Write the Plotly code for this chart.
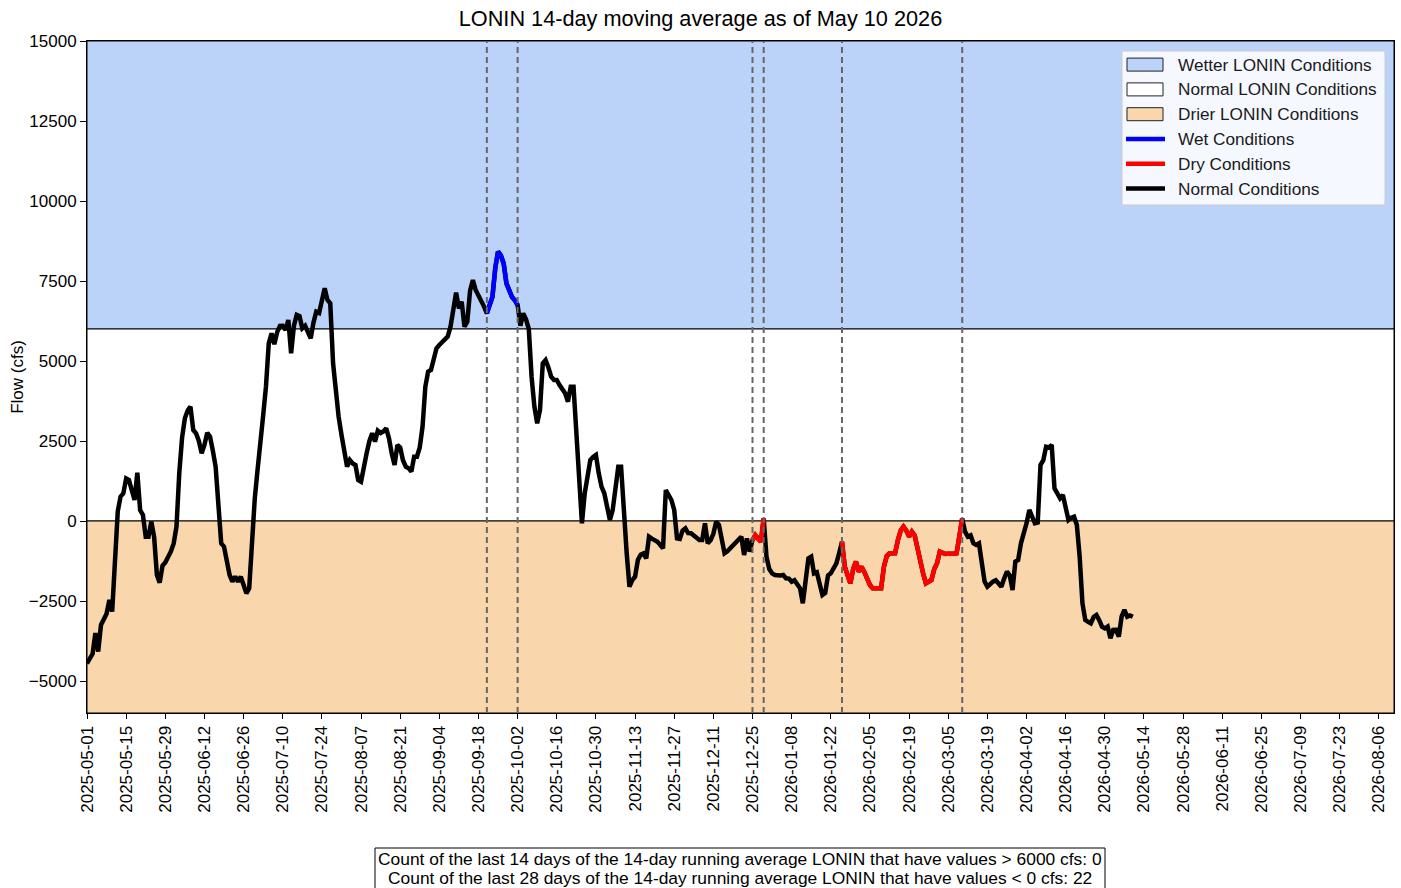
import pandas as pd
import plotly.graph_objects as go

# ---------------- data ----------------
START_DATE = "2025-05-01"
AS_OF_LABEL = "May 10 2026"
X_END = "2026-08-11 10:00"
Y_RANGE = [-6000, 15000]
WET_THRESHOLD = 6000
DRY_THRESHOLD = 0

# days since START_DATE
day_offset = [
    0, 2, 3, 4, 5, 6, 7, 8, 9, 11, 12, 13, 14, 15, 17, 18, 19, 20, 21, 22,
    23, 24, 25, 26, 27, 28, 29, 30, 31, 32, 33, 34, 35, 36, 37, 38, 39, 40,
    41, 42, 43, 44, 45, 46, 47, 48, 49, 50, 51, 52, 53, 54, 55, 56, 57, 58,
    59, 60, 61, 62, 63, 64, 65, 66, 67, 68, 69, 70, 71, 72, 73, 74, 75, 76,
    77, 78, 79, 80, 81, 82, 83, 84, 85, 86, 87, 88, 89, 90, 91, 92, 93, 94,
    95, 96, 97, 98, 99, 100, 101, 102, 103, 104, 105, 106, 107, 108, 109,
    110, 111, 112, 113, 114, 115, 116, 117, 118, 119, 120, 121, 122, 123,
    124, 125, 126, 127, 128, 129, 130, 131, 132, 133, 134, 135, 136, 137,
    138, 139, 140, 141, 142, 143, 144, 145, 146, 147, 148, 149, 150, 151,
    152, 153, 154, 155, 156, 157, 158, 159, 160, 161, 162, 163, 164, 165,
    166, 167, 168, 169, 170, 171, 172, 173, 174, 175, 176, 177, 178, 179,
    180, 181, 182, 183, 184, 185, 186, 187, 188, 189, 190, 191, 192, 193,
    194, 195, 196, 197, 198, 199, 200, 201, 202, 203, 204, 205, 206, 207,
    208, 209, 210, 211, 212, 213, 214, 215, 216, 217, 218, 219, 220, 221,
    222, 223, 224, 225, 226, 227, 228, 229, 230, 231, 232, 233, 234, 235,
    236, 237, 238, 239, 240, 241, 242, 243, 244, 245, 246, 247, 248, 249,
    250, 251, 252, 253, 254, 255, 256, 257, 258, 259, 260, 261, 262, 263,
    264, 265, 266, 267, 268, 269, 270, 271, 272, 273, 274, 275, 276, 277,
    278, 279, 280, 281, 282, 283, 284, 285, 286, 287, 288, 289, 290, 291,
    292, 293, 294, 295, 296, 297, 298, 299, 300, 301, 302, 303, 304, 305,
    306, 307, 308, 309, 310, 311, 312, 313, 314, 315, 316, 317, 318, 319,
    320, 321, 322, 323, 324, 325, 326, 327, 328, 329, 330, 331, 332, 333,
    334, 335, 336, 337, 338, 339, 340, 341, 342, 343, 344, 345, 346, 347,
    348, 349, 350, 351, 352, 353, 354, 355, 356, 357, 358, 359, 360, 361,
    362, 363, 364, 365, 366, 367, 368, 369, 370, 371, 372, 373, 374,
]
flow_cfs = [
    -4450, -4150, -3500, -4080, -3250, -3100, -2900, -2470, -2830, 300, 760,
    865, 1330, 1280, 656, 1510, 344, 187, -490, -490,
    -20, -490, -1687, -1927, -1400, -1300, -1146, -950, -700, -177, 1500,
    2600, 3208, 3450, 3573, 2844, 2740, 2500,
    2115, 2375, 2760, 2635, 2200, 1697, 500, -698, -802, -1300, -1687,
    -1895, -1740, -1895, -1740, -2000, -2260, -2104,
    -385, 700, 1600, 2323, 3300, 4197, 5553, 5865, 5522, 5900, 6094, 6100,
    5969, 6281, 5240, 6100, 6438, 6400,
    6022, 6100, 5900, 5709, 6200, 6540, 6500, 6906, 7271, 6906, 6800, 4928,
    3900, 3250, 2700, 2100, 1697, 1906,
    1800, 1750, 1281, 1229, 1600, 2115, 2500, 2740, 2480, 2823, 2750, 2800,
    2896, 2583, 2100,
    1750, 2375, 2300, 1900, 1697, 1650, 1541, 2010, 2010, 2300, 2948, 4197,
    4666, 4719,
    5000, 5397, 5500, 5600, 5700, 5760, 6072, 6600, 7134, 6647, 6853, 6072,
    6228, 7200,
    7531, 7219, 7063, 6900, 6700, 6490, 6800, 7010, 7900, 8416, 8300, 8050,
    7428, 7200,
    7000, 6900, 6750, 6100, 6490, 6300, 6000, 4500, 3572, 3053, 3469, 4928,
    5031, 4800,
    4510, 4406, 4406, 4250, 4100, 3990, 3728, 4197, 4197, 2844, 1400, -73,
    866, 1400,
    1906, 2000, 2063, 1500, 1072, 866, 500, 31, 344, 1000, 1697, 1697, 135,
    -1000,
    -2053, -1850, -1740, -1219, -1050, -1010, -1167, -490, -550, -594, -646,
    -750, -854, 969,
    800, 656, 344, -542, -560, -300, -229, -380, -385, -450, -520, -594,
    -594, -73,
    -698, -600, -400, -21, -125, -500, -1010, -950, -854, -750, -698, -600,
    -490, -1063,
    -542, -958, -594, -440, -560, -646, 83, -1115, -1500, -1635, -1687,
    -1700, -1700, -1687,
    -1792, -1800, -1895, -1850, -2000, -2104, -2573, -1900, -1167, -1115,
    -1635, -1600, -1900, -2313,
    -2250, -1700, -1635, -1500, -1323, -1000, -646, -1427, -1700, -1948,
    -1500, -1271, -1584, -1427,
    -1600, -1792, -2000, -2104, -2100, -2080, -2104, -1427, -1100, -1010,
    -1000, -1010, -594, -300,
    -177, -300, -490, -333, -450, -900, -1219, -1635, -1948, -1900, -1844,
    -1500, -1323, -958,
    -1000, -1031, -1020, -1031, -1020, -1010, -385, 83, -333, -490, -450,
    -698, -750, -698,
    -1300, -1895, -2053, -1950, -1895, -1850, -1950, -2053, -1800, -1584,
    -1700, -2156, -1271, -1219,
    -698, -400, -73, 344, 135, -73, -50, 1750, 1900, 2323, 2300, 2375, 1021,
    866,
    708, 812, 400, 31, 100, 135, -125, -1115, -2573, -3094, -3150, -3198,
    -3000, -2938,
    -3100, -3300, -3354, -3300, -3667, -3406, -3400, -3615, -2990, -2781,
    -2990, -2950, -2990,
]

wet_periods = [("2025-09-21", "2025-10-02")]
dry_periods = [("2025-12-25", "2025-12-29"), ("2026-01-26", "2026-03-10")]

count_wet_last14 = 0
count_dry_last28 = 22

band_names = ["Wetter LONIN Conditions", "Normal LONIN Conditions",
              "Drier LONIN Conditions"]
line_names = ["Wet Conditions", "Dry Conditions", "Normal Conditions"]

# ---------------- styling ----------------
FONT = "Liberation Sans, Arial, Helvetica, sans-serif"
WET_FILL = "#BBD2F9"
NORMAL_FILL = "#FFFFFF"
DRY_FILL = "#F9D6AB"
WET_LINE = "#0000FF"
DRY_LINE = "#FF0000"
NORMAL_LINE = "#000000"
LINE_W = 4.5

W, H = 1401, 888
ML, MR, MT, MB = 87, 7, 41, 175
PW, PH = W - ML - MR, H - MT - MB


def px_x(p):  # pixel -> paper x
    return (p - ML) / PW


def px_y(p):  # pixel -> paper y
    return (H - MB - p) / PH


dates = pd.Timestamp(START_DATE) + pd.to_timedelta(day_offset, unit="D")
df = pd.DataFrame({"date": dates, "flow": flow_cfs})
x_lo = pd.Timestamp(START_DATE)
x_hi = pd.Timestamp(X_END)

fig = go.Figure()

bands = [
    (WET_THRESHOLD, Y_RANGE[1], WET_FILL),
    (DRY_THRESHOLD, WET_THRESHOLD, NORMAL_FILL),
    (Y_RANGE[0], DRY_THRESHOLD, DRY_FILL),
]
for lo, hi, color in bands:
    fig.add_shape(type="rect", xref="paper", yref="y",
                  x0=0, x1=1, y0=lo, y1=hi, fillcolor=color,
                  line=dict(color="black", width=1), layer="below")

fig.add_trace(go.Scatter(
    x=df["date"], y=df["flow"], mode="lines",
    line=dict(color=NORMAL_LINE, width=LINE_W),
    name=line_names[2], showlegend=False,
))


def segments(periods):
    xs, ys = [], []
    for s, e in periods:
        m = (df["date"] >= pd.Timestamp(s)) & (df["date"] <= pd.Timestamp(e))
        xs += list(df.loc[m, "date"]) + [None]
        ys += list(df.loc[m, "flow"]) + [None]
    return xs, ys


wx, wy = segments(wet_periods)
fig.add_trace(go.Scatter(x=wx, y=wy, mode="lines",
                         line=dict(color=WET_LINE, width=LINE_W),
                         name=line_names[0], showlegend=False))
dx, dy = segments(dry_periods)
fig.add_trace(go.Scatter(x=dx, y=dy, mode="lines",
                         line=dict(color=DRY_LINE, width=LINE_W),
                         name=line_names[1], showlegend=False))

for s, e in wet_periods + dry_periods:
    for d in (s, e):
        fig.add_shape(type="line", xref="x", yref="paper",
                      x0=d, x1=d, y0=0, y1=1,
                      line=dict(color="#666666", width=2, dash="6px,4px"))

# ---------------- legend (drawn as a matplotlib-style box) ----------------
fig.add_shape(type="rect", xref="paper", yref="paper",
              x0=px_x(1122), x1=px_x(1385), y0=px_y(205), y1=px_y(51),
              fillcolor="rgba(255,255,255,0.85)",
              line=dict(color="#cccccc", width=1), layer="above")
ROW0, ROWSTEP = 64.6, 24.8
legend_items = ([("patch", n, c) for n, (_, _, c) in zip(band_names, bands)] +
                [("line", n, c) for n, c in zip(line_names,
                                                 [WET_LINE, DRY_LINE, NORMAL_LINE])])
for i, (kind, name, color) in enumerate(legend_items):
    yc = ROW0 + ROWSTEP * i
    if kind == "patch":
        fig.add_shape(type="rect", xref="paper", yref="paper",
                      x0=px_x(1127), x1=px_x(1163),
                      y0=px_y(yc + 6.5), y1=px_y(yc - 6.5),
                      fillcolor=color, line=dict(color="#222222", width=1),
                      layer="above")
    else:
        fig.add_shape(type="line", xref="paper", yref="paper",
                      x0=px_x(1126), x1=px_x(1165), y0=px_y(yc), y1=px_y(yc),
                      line=dict(color=color, width=LINE_W), layer="above")
    fig.add_annotation(xref="paper", yref="paper", x=px_x(1176), y=px_y(yc),
                       xanchor="left", yanchor="middle", showarrow=False,
                       text=name, font=dict(family=FONT, size=17.2,
                                            color="#1a1a1a"))

# ---------------- footer text box ----------------
line1 = (f"Count of the last 14 days of the 14-day running average LONIN that "
         f"have values &gt; {WET_THRESHOLD} cfs: {count_wet_last14}")
line2 = (f"Count of the last 28 days of the 14-day running average LONIN that "
         f"have values &lt; {DRY_THRESHOLD} cfs: {count_dry_last28}")
for txt, ypx in ((line1, 858.5), (line2, 877.5)):
    fig.add_annotation(
        xref="paper", yref="paper", x=px_x(740), y=px_y(ypx),
        xanchor="center", yanchor="middle", showarrow=False, text=txt,
        font=dict(family=FONT, size=17.4, color="black"),
    )
fig.add_shape(type="rect", xref="paper", yref="paper",
              x0=px_x(375), x1=px_x(1105), y0=px_y(895), y1=px_y(848),
              line=dict(color="black", width=1), fillcolor="rgba(0,0,0,0)")

fig.update_layout(
    width=W, height=H,
    margin=dict(l=ML, r=MR, t=MT, b=MB, autoexpand=False),
    paper_bgcolor="white", plot_bgcolor="white",
    font=dict(family=FONT, size=17, color="black"),
    title=dict(text=f"LONIN 14-day moving average as of {AS_OF_LABEL}",
               x=0.5, xref="container", xanchor="center",
               y=1 - 18 / H, yref="container", yanchor="middle",
               pad=dict(t=0, b=0),
               font=dict(family=FONT, size=21.7, color="black")),
    showlegend=False,
    hovermode=False,
)
fig.update_xaxes(
    range=[x_lo, x_hi], type="date", automargin=False,
    tick0=START_DATE, dtick=14 * 86400000, tickformat="%Y-%m-%d",
    tickangle=-90, ticks="outside", ticklen=5, tickcolor="black",
    showline=True, linecolor="black", linewidth=1, mirror=True,
    showgrid=False, zeroline=False,
    tickfont=dict(family=FONT, size=17, color="black"),
)
fig.update_yaxes(
    range=Y_RANGE, tick0=0, dtick=2500, tickformat="d",
    automargin=False,
    ticks="outside", ticklen=6, tickcolor="black",
    showline=True, linecolor="black", linewidth=1, mirror=True,
    showgrid=False, zeroline=False,
    title=dict(text="Flow (cfs)", standoff=0,
               font=dict(family=FONT, size=17, color="black")),
    tickfont=dict(family=FONT, size=17, color="black"),
)

fig.write_html("out.html", config={"displayModeBar": False},
               post_script="document.body.style.margin='0px';")
